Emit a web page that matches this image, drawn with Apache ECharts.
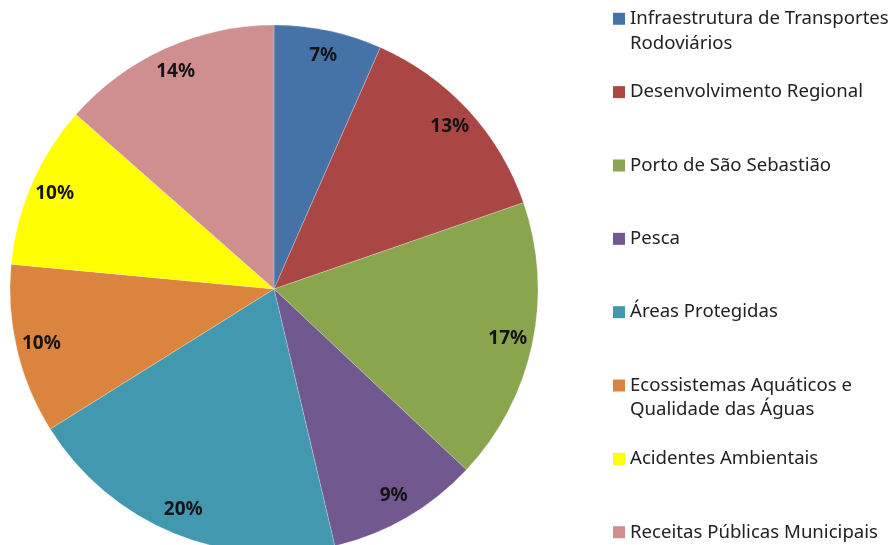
<!DOCTYPE html>
<html>
<head>
<meta charset="utf-8">
<script src="https://cdn.jsdelivr.net/npm/echarts@6/dist/echarts.min.js"></script>
<style>html,body{margin:0;padding:0;background:#fff;}#c{width:891px;height:545px;}</style>
</head>
<body>
<div id="c"></div>
<script>
const categories = [
  'Infraestrutura de Transportes\nRodoviários',
  'Desenvolvimento Regional',
  'Porto de São Sebastião',
  'Pesca',
  'Áreas Protegidas',
  'Ecossistemas Aquáticos e\nQualidade das Águas',
  'Acidentes Ambientais',
  'Receitas Públicas Municipais'
];
const values = [6.6, 13.1, 17.3, 9.3, 19.8, 10.4, 10.0, 13.5];
const colors = ['#4572A7', '#AA4643', '#89A54E', '#71588F', '#4198AF', '#DB843D', '#FFFF00', '#CF8F8F'];

const data = categories.map((n, i) => ({ name: n, value: values[i], itemStyle: { color: colors[i] } }));
const labelData = categories.map((n, i) => ({ name: n, value: values[i] }));

const chart = echarts.init(document.getElementById('c'), null, { renderer: 'canvas' });
chart.setOption({
  backgroundColor: '#ffffff',
  animation: false,
  legend: {
    orient: 'vertical',
    left: 613,
    top: -17.9,
    height: 620,
    padding: 0,
    itemGap: 0,
    itemWidth: 12,
    itemHeight: 12,
    icon: 'rect',
    selectedMode: false,
    data: categories,
    formatter: function (name) {
      return name.indexOf('\n') >= 0 ? '\n' + name : '\n' + name + '\n';
    },
    textStyle: {
      fontFamily: 'Noto Sans',
      fontSize: 18.6,
      lineHeight: 24.45,
      color: '#222222',
      padding: [0, 0, 0, 0]
    },
    itemStyle: { borderWidth: 0 }
  },
  series: [
    {
      type: 'pie',
      center: [274, 289],
      radius: [0, 264],
      startAngle: 90,
      clockwise: true,
      silent: true,
      label: { show: false },
      labelLine: { show: false },
      itemStyle: { borderWidth: 0.6, borderColor: 'rgba(255,255,255,0.4)' },
      data: data
    },
    {
      type: 'pie',
      center: [274, 289],
      radius: [208, 264],
      startAngle: 90,
      clockwise: true,
      silent: true,
      itemStyle: { color: 'transparent', borderWidth: 0 },
      label: {
        show: true,
        position: 'inside',
        fontFamily: 'Noto Sans',
        fontWeight: 'bold',
        fontSize: 19,
        color: '#141414',
        formatter: function (p) { return Math.round(p.percent) + '%'; }
      },
      labelLine: { show: false },
      data: labelData
    }
  ]
});
</script>
</body>
</html>
